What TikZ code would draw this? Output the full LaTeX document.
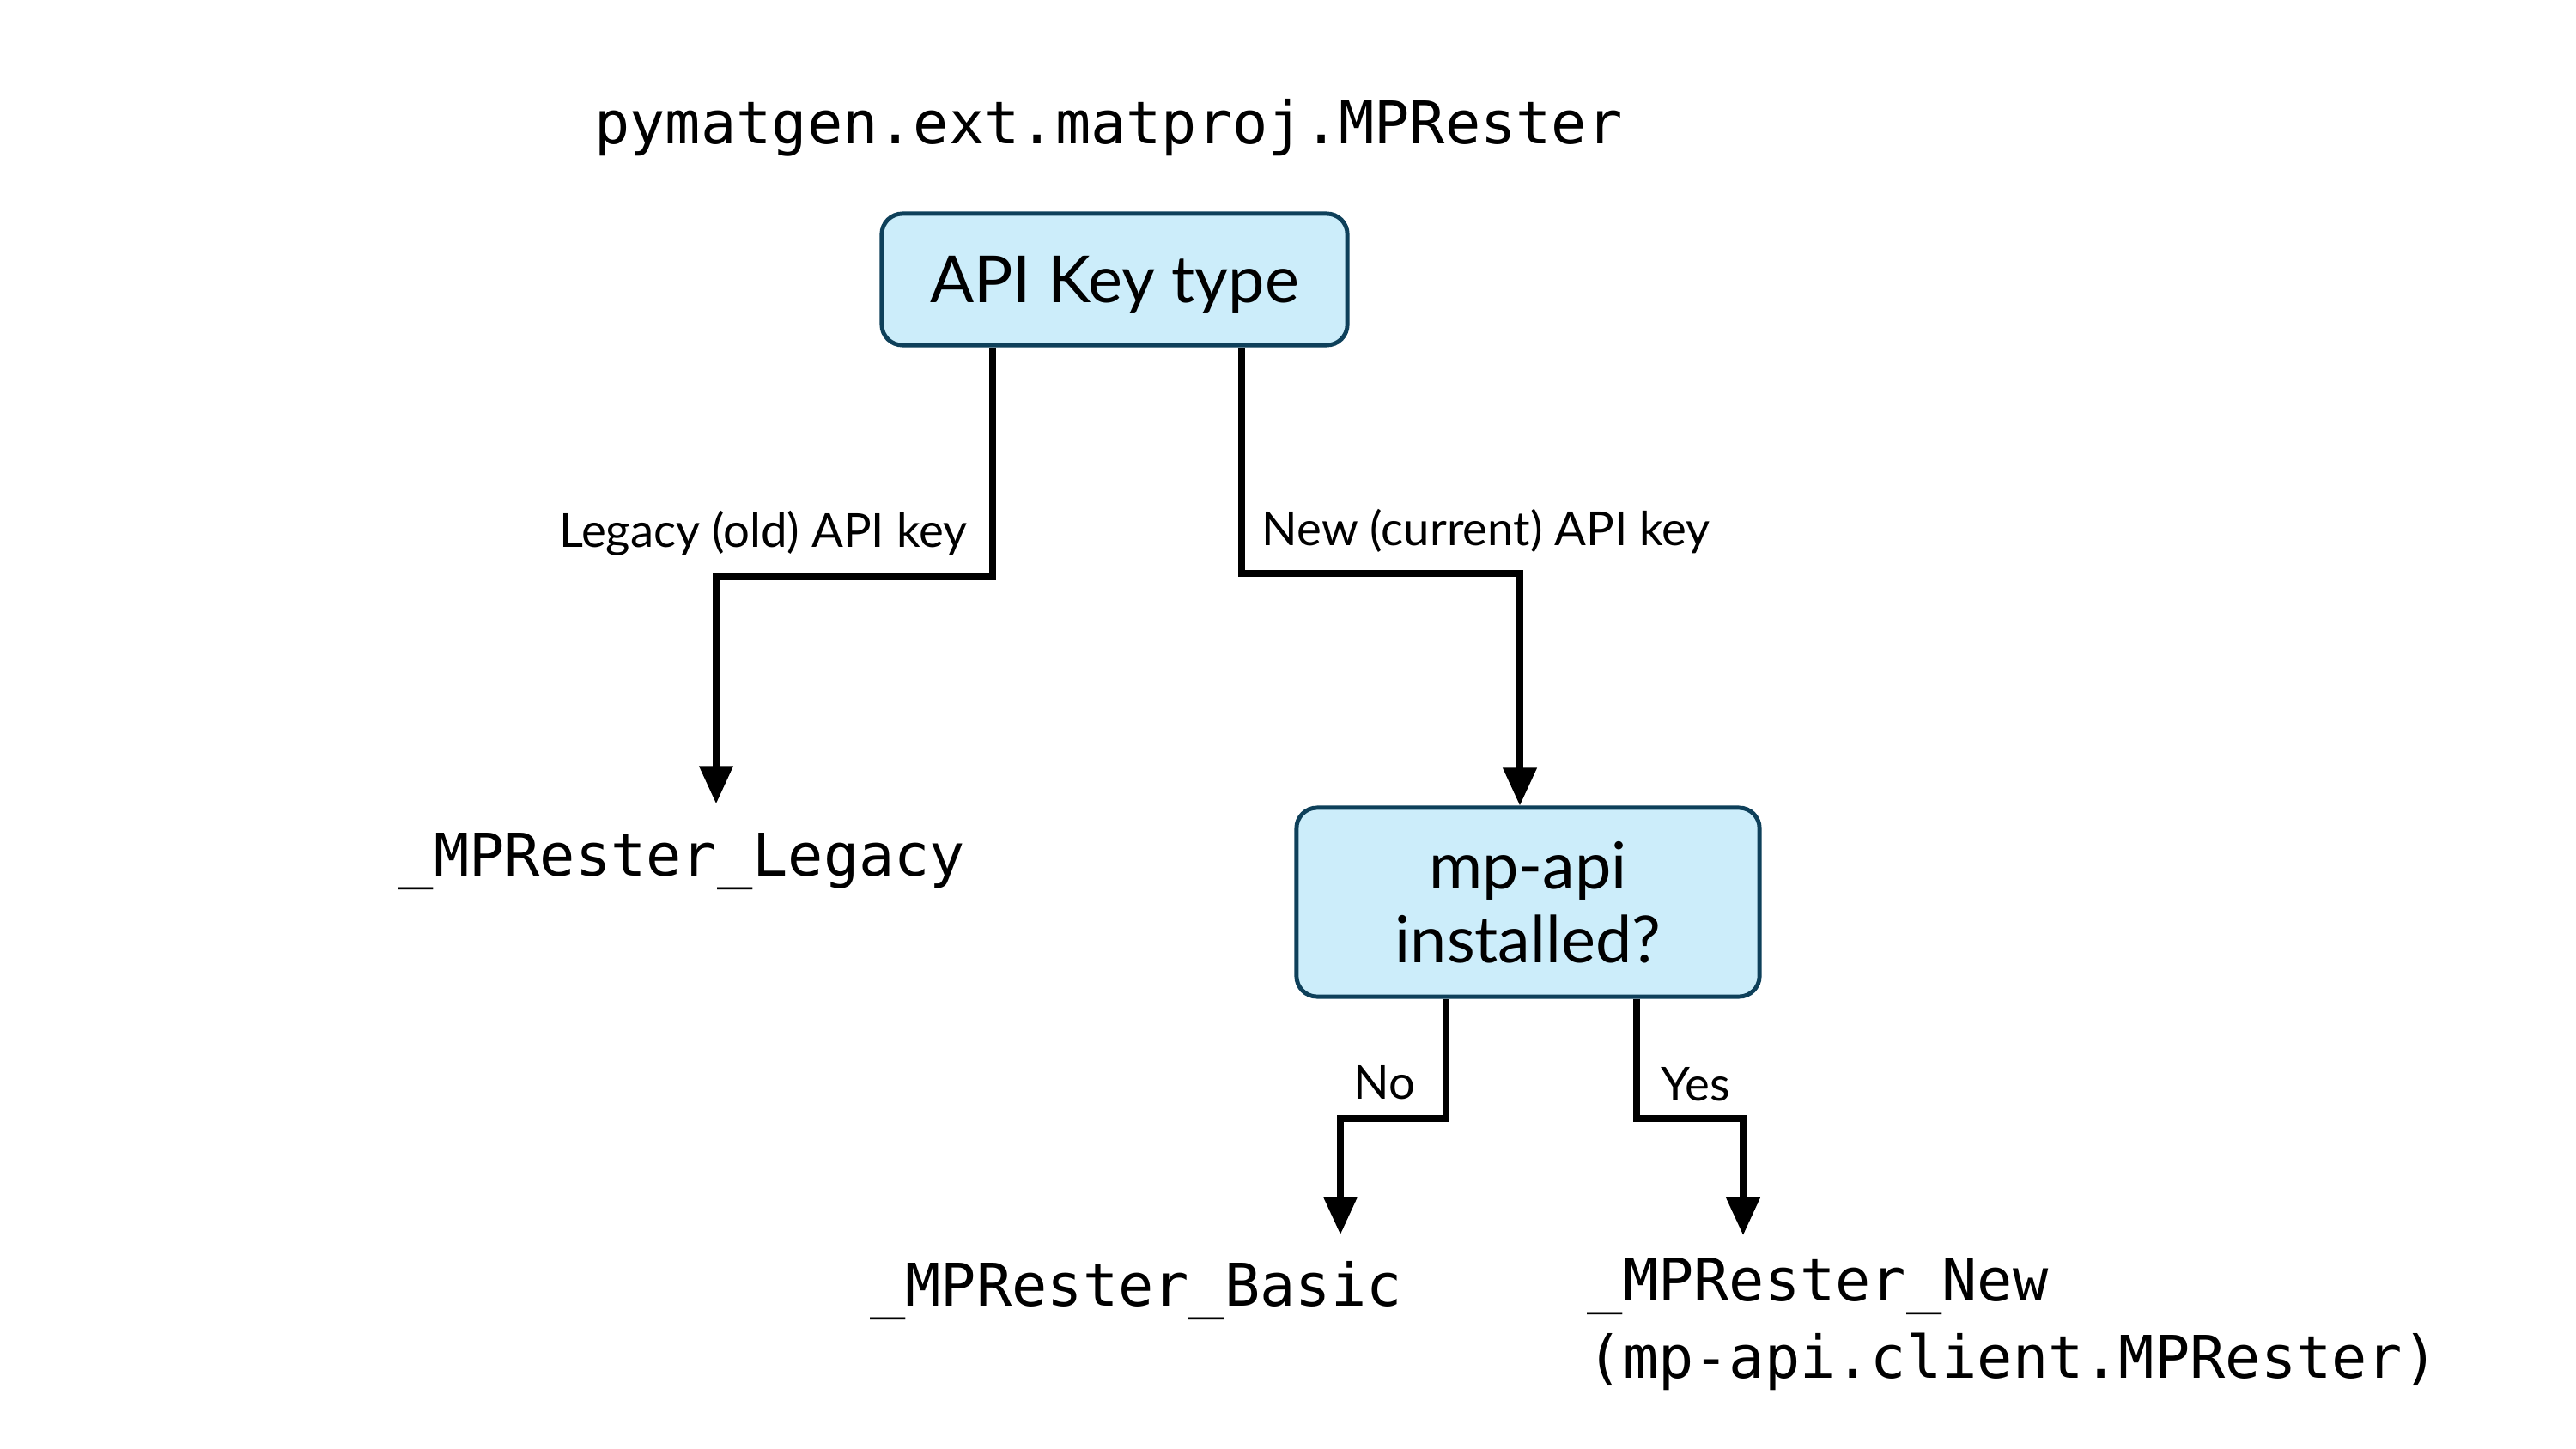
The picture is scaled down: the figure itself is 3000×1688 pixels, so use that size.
\documentclass[tikz,border=0pt]{standalone}
\usepackage{fontspec}
\setmainfont{Lato}
\newfontfamily\monofont{DejaVu Sans Mono}
\usetikzlibrary{arrows.meta}
\definecolor{boxfill}{RGB}{204,237,250}
\definecolor{boxline}{RGB}{14,64,90}
\tikzset{
  decision/.style={draw=boxline, fill=boxfill, line width=1.4pt, rounded corners=0.24cm,
    font=\fontsize{21.5}{24.5}\selectfont, align=center, text depth=0pt, inner sep=0pt},
  code/.style={font=\monofont\fontsize{19.5}{25.6}\selectfont, inner sep=0pt},
  lbl/.style={font=\fontsize{15.5}{18}\selectfont, inner sep=0pt},
  conn/.style={line width=2.1pt, -{Triangle[width=0.38cm,length=0.44cm]}}
}
\begin{document}
\begin{tikzpicture}[x=0.01cm,y=-0.01cm]
\useasboundingbox (0,0) rectangle (3000,1688);
% title
\node[code, anchor=base] (title) at (1291,168) {pymatgen.ext.matproj.MPRester};
% decision boxes
\node[decision, minimum width=5.42cm, minimum height=1.53cm] (key) at (1298,325.5) {API Key type};
\node[decision, minimum width=5.39cm, minimum height=2.20cm] (inst) at (1779.5,1051) {mp-api\\installed?};
% outcomes
\node[code, anchor=base] (legacy) at (794,1020) {\_MPRester\_Legacy};
\node[code, anchor=base] (basic) at (1323,1521) {\_MPRester\_Basic};
\node[code, anchor=north west, align=left] (new) at (1848,1465) {\_MPRester\_New\\(mp-api.client.MPRester)};
% junction points
\coordinate (jL) at (834,672);
\coordinate (jR) at (1770,668);
\coordinate (jNo) at (1561,1303);
\coordinate (jYes) at (2030,1303);
% connectors
\draw[conn, shorten >=0.33cm] ([xshift=-1.42cm]key.south) |- (jL) -- (jL |- legacy.north);
\draw[conn] ([xshift=1.48cm]key.south) |- (jR) -- (jR |- inst.north);
\draw[conn, shorten >=0.30cm] ([xshift=-0.955cm]inst.south) |- (jNo) -- (jNo |- basic.north);
\draw[conn, shorten >=0.26cm] ([xshift=1.265cm]inst.south) |- (jYes) -- (jYes |- new.north);
% labels
\node[lbl, anchor=base east] (lLegacy) at (1127,637) {Legacy (old) API key};
\node[lbl, anchor=base west] (lNew) at (1469,635) {New (current) API key};
\node[lbl, anchor=base east] (lNo) at (1649,1280) {No};
\node[lbl, anchor=base west] (lYes) at (1934,1282) {Yes};
\end{tikzpicture}
\end{document}
